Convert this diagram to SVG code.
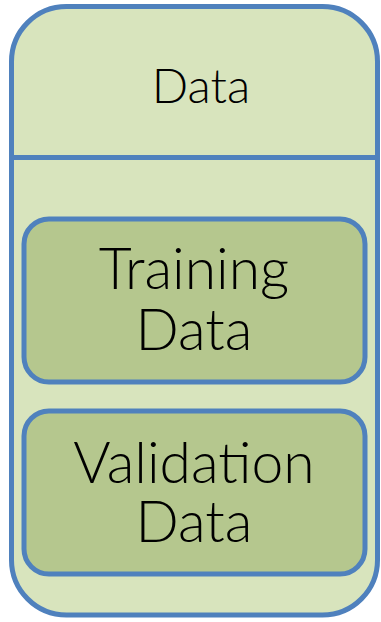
<svg xmlns="http://www.w3.org/2000/svg" width="381" height="622" viewBox="0 0 381 622">
<style>
.outer{fill:#d8e4bd;stroke:#4f81bd;stroke-width:5}
.inner{fill:#b5c78e;stroke:#4f81bd;stroke-width:5}
text{font-family:Lato,"Open Sans",sans-serif;font-weight:300;fill:#000;text-anchor:middle}
.h{font-size:48px}
.b{font-size:57px}
</style>
<g id="data">
<rect class="outer" x="11.5" y="6.5" width="366" height="608.5" rx="55" ry="55"/>
<line x1="11.5" y1="157.5" x2="377.5" y2="157.5" stroke="#4f81bd" stroke-width="5"/>
<text class="h" x="201" y="103">Data</text>
</g>
<g id="training">
<rect class="inner" x="24" y="219" width="341" height="163" rx="25" ry="25"/>
<text class="b" x="194" y="289">Training</text>
<text class="b" x="194" y="350">Data</text>
</g>
<g id="validation">
<rect class="inner" x="24" y="411" width="341" height="163" rx="25" ry="25"/>
<text class="b" x="194" y="483">Validation</text>
<text class="b" x="194" y="542">Data</text>
</g>
<g id="connectors"/>
</svg>
